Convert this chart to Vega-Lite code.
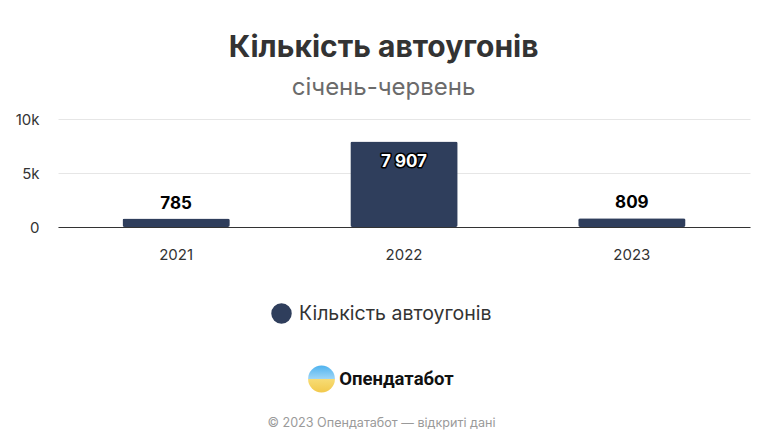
{
  "$schema": "https://vega.github.io/schema/vega-lite/v6.json",
  "padding": {"left": 15, "right": 5, "top": 33, "bottom": 5},
  "title": {
    "text": "Кількість автоугонів",
    "subtitle": "січень-червень",
    "anchor": "middle",
    "dx": 1,
    "font": "Inter",
    "fontSize": 30,
    "fontWeight": "bold",
    "color": "#333333",
    "subtitleFont": "Inter",
    "subtitleFontSize": 24,
    "subtitleColor": "#6b6b6b",
    "subtitlePadding": 13,
    "offset": 12
  },
  "spacing": 95,
  "vconcat": [
    {
      "width": 692,
      "height": 108,
      "data": {
        "values": [
          {"year": "2021", "value": 785, "series": "Кількість автоугонів"},
          {"year": "2022", "value": 7907, "series": "Кількість автоугонів"},
          {"year": "2023", "value": 809, "series": "Кількість автоугонів"}
        ]
      },
      "encoding": {
        "x": {
          "field": "year",
          "type": "ordinal",
          "scale": {"paddingInner": 0.529, "paddingOuter": 0.283},
          "axis": {
            "title": null,
            "labelAngle": 0,
            "ticks": false,
            "domainColor": "#333333",
            "labelFont": "Inter",
            "labelFontSize": 15,
            "labelColor": "#333333",
            "labelPadding": 20
          }
        },
        "y": {
          "field": "value",
          "type": "quantitative",
          "scale": {"domain": [0, 10000]},
          "axis": {
            "title": null,
            "values": [0, 5000, 10000],
            "labelExpr": "datum.value == 0 ? '0' : format(datum.value / 1000, 'd') + 'k'",
            "domain": false,
            "ticks": false,
            "gridColor": "#e6e6e6",
            "labelFont": "Inter",
            "labelFontSize": 15,
            "labelColor": "#333333",
            "labelPadding": 19
          }
        }
      },
      "layer": [
        {
          "mark": {"type": "bar", "cornerRadius": 2},
          "encoding": {
            "color": {
              "field": "series",
              "type": "nominal",
              "scale": {"range": ["#2f3e5c"]},
              "legend": {
                "title": null,
                "orient": "none",
                "legendX": 213,
                "legendY": 184,
                "symbolType": "circle",
                "symbolSize": 420,
                "symbolStrokeWidth": 0,
                "labelFont": "Inter",
                "labelFontSize": 19.5,
                "labelColor": "#333333",
                "labelOffset": 7,
                "labelLimit": 400
              }
            }
          }
        },
        {
          "transform": [{"filter": "datum.value < 5000"}],
          "mark": {
            "type": "text",
            "baseline": "middle",
            "dy": -15,
            "font": "Inter",
            "fontSize": 17,
            "fontWeight": "bold",
            "color": "#000000"
          },
          "encoding": {"text": {"field": "value", "type": "quantitative", "format": ","}}
        },
        {
          "transform": [{"filter": "datum.value >= 5000"}],
          "mark": {
            "type": "text",
            "baseline": "middle",
            "dy": 20,
            "font": "Inter",
            "fontSize": 17,
            "fontWeight": "bold",
            "color": "#000000",
            "stroke": "#000000",
            "strokeWidth": 3,
            "strokeJoin": "round"
          },
          "encoding": {"text": {"field": "value", "type": "quantitative", "format": ","}}
        },
        {
          "transform": [{"filter": "datum.value >= 5000"}],
          "mark": {
            "type": "text",
            "baseline": "middle",
            "dy": 20,
            "font": "Inter",
            "fontSize": 17,
            "fontWeight": "bold",
            "color": "#ffffff"
          },
          "encoding": {"text": {"field": "value", "type": "quantitative", "format": ","}}
        }
      ]
    },
    {
      "width": 647,
      "height": 88,
      "data": {
        "values": [
          {"line": "logo", "text": "Опендатабот"},
          {"line": "footer", "text": "© 2023 Опендатабот — відкриті дані"}
        ]
      },
      "encoding": {
        "y": {
          "field": "line",
          "type": "nominal",
          "sort": ["logo", "footer"],
          "axis": null
        }
      },
      "layer": [
        {
          "transform": [{"filter": "datum.line == 'logo'"}],
          "mark": {
            "type": "point",
            "shape": "circle",
            "filled": true,
            "size": 720,
            "xOffset": -60,
            "strokeWidth": 0,
            "opacity": 1,
            "color": {
              "gradient": "linear",
              "x1": 0, "y1": 0, "x2": 0, "y2": 1,
              "stops": [
                {"offset": 0, "color": "#4fb3ef"},
                {"offset": 0.5, "color": "#9fd6f6"},
                {"offset": 0.5, "color": "#f7dc75"},
                {"offset": 1, "color": "#f2c94c"}
              ]
            }
          }
        },
        {
          "transform": [{"filter": "datum.line == 'logo'"}],
          "mark": {
            "type": "text",
            "dx": 15,
            "font": "Roboto",
            "fontSize": 18.5,
            "fontWeight": "bold",
            "color": "#111111"
          },
          "encoding": {"text": {"field": "text"}}
        },
        {
          "transform": [{"filter": "datum.line == 'footer'"}],
          "mark": {
            "type": "text",
            "font": "Inter",
            "fontSize": 12.6,
            "color": "#9a9a9a"
          },
          "encoding": {"text": {"field": "text"}}
        }
      ]
    }
  ],
  "config": {
    "view": {"stroke": null},
    "locale": {
      "number": {
        "decimal": ",",
        "thousands": " ",
        "grouping": [3],
        "currency": ["", " ₴"]
      }
    }
  }
}
